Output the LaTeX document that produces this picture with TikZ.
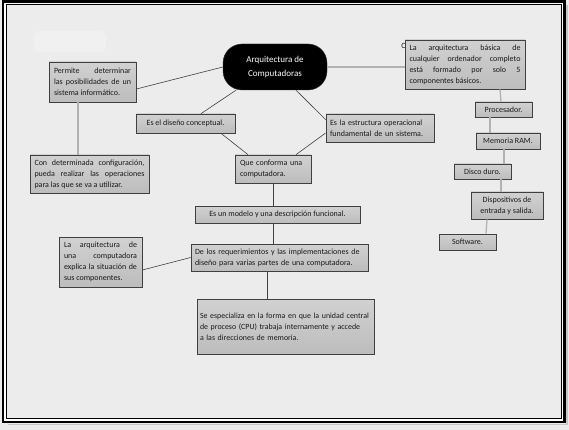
\documentclass[tikz,border=0pt]{standalone}
\usepackage{fontspec}
\setmainfont{Carlito}
\begin{document}
\begin{tikzpicture}[
    x=1pt, y=-1pt,
    box/.style={rectangle, draw=black!75, line width=0.7pt, top color=gray!36, bottom color=gray!52, text=black!90, font=\fontsize{8}{11}\selectfont, inner xsep=5pt, inner ysep=2pt},
    jbox/.style={box, align=justify},
    lbox/.style={box, align=left},
    cbox/.style={box, align=center},
    link/.style={draw=black!75, line width=0.6pt},
    glink/.style={draw=gray!60, line width=1.3pt}
]
\useasboundingbox (0,0) rectangle (569,430);
\fill[gray!15] (0,0) rectangle (569,430);
\fill[gray!12, rounded corners=6pt] (34,31) rectangle (106,52);
\draw[gray!45, line width=1.5pt] (567,5) -- (567,424.5) -- (8,424.5);
\draw[black, line width=2.6pt] (3,1.3) rectangle (564.5,422);
\draw[white, line width=1.2pt] (5,3.2) rectangle (562.5,420);
\draw[black, line width=0.9pt] (6.5,4.6) rectangle (561,418.5);

\node[rectangle, rounded corners=19pt, fill=black, draw=black!80, text=white, minimum width=104pt, minimum height=46pt, align=center, font=\fontsize{9}{14}\selectfont] (central) at (275,67) {Arquitectura de\\Computadoras};

\node[jbox, minimum width=87pt, minimum height=40pt, text width=77pt] (permite) at (92.5,82) {Permite determinar\linebreak las posibilidades de un sistema informático.};
\node[jbox, minimum width=119pt, minimum height=38pt, text width=110pt, inner xsep=4.5pt] (config) at (89.5,174) {Con determinada configuración,\linebreak pueda realizar las operaciones para las que se va a utilizar.};
\node[lbox, minimum width=99pt, minimum height=19pt] (disenio) at (185.5,123.5) {Es el diseño conceptual.};
\node[lbox, minimum width=108pt, minimum height=28pt, text width=100pt, inner xsep=4pt] (estructura) at (380,128) {Es la estructura operacional\\fundamental de un sistema.};
\node[lbox, minimum width=76pt, minimum height=28pt, text width=66pt] (conforma) at (273,169) {Que conforma una\\computadora.};
\node[cbox, minimum width=165pt, minimum height=17pt] (modelo) at (277.5,214.5) {Es un modelo y una descripción funcional.};
\node[jbox, minimum width=83pt, minimum height=50pt, text width=73pt] (explica) at (100.5,262) {La arquitectura de\linebreak una computadora\linebreak explica la situación de sus componentes.};
\node[lbox, minimum width=177pt, minimum height=27pt, text width=169pt, inner xsep=4pt] (requisitos) at (279.5,257.5) {De los requerimientos y las implementaciones de\\diseño para varias partes de una computadora.};
\node[lbox, minimum width=177pt, minimum height=55pt, text width=174pt, inner xsep=1.5pt, font=\fontsize{7.9}{11}\selectfont] (especializa) at (285.5,326.5) {\hspace{1.5pt}Se especializa en la forma en que la unidad central\\\hspace{1.5pt}de proceso (CPU) trabaja internamente y accede\\\hspace{1.5pt}a las direcciones de memoria.\\[7pt]};

\node[text=black!90, font=\fontsize{8}{11}\selectfont] (letra) at (403.5,46) {C};
\node[jbox, minimum width=120pt, minimum height=49pt, text width=111pt, inner xsep=4.5pt] (basica) at (465,64.5) {La arquitectura básica de\linebreak cualquier ordenador completo\linebreak está formado por solo 5\linebreak componentes básicos.};
\node[cbox, minimum width=57pt, minimum height=15pt] (procesador) at (503.5,109.5) {Procesador.};
\node[cbox, minimum width=64pt, minimum height=16pt] (memoria) at (508,141) {Memoria RAM.};
\node[cbox, minimum width=57pt, minimum height=15pt] (disco) at (482.5,171.5) {Disco duro.};
\node[cbox, minimum width=72pt, minimum height=27pt] (dispositivos) at (507,205.5) {Dispositivos de\\entrada y salida.};
\node[cbox, minimum width=57pt, minimum height=16pt] (software) at (467.5,242) {Software.};

\draw[link] (central.west) -- ([yshift=-7pt]permite.east);
\draw[link] ([xshift=-39pt]central.south) -- ([xshift=15.5pt]disenio.north);
\draw[link] ([xshift=21pt]central.south) -- ([yshift=-6pt]estructura.north west);
\draw[link] ([xshift=35.5pt]disenio.south) -- ([xshift=-25pt]conforma.north);
\draw[link] ([yshift=-5pt]estructura.west) -- ([xshift=23pt]conforma.north);
\draw[link] (conforma.south) -- (conforma.south |- modelo.north);
\draw[link] (modelo.south -| conforma.south) -- (requisitos.north -| conforma.south);
\draw[link] (requisitos.west) -- ([yshift=-8pt]explica.east);
\draw[link] ([xshift=-12.5pt]requisitos.south) -- ([xshift=-18.5pt]especializa.north);
\draw[glink] (permite.south -| 78,0) -- (config.north -| 78,0);
\draw[glink] (central.east) -- (central.east -| basica.west);
\draw[glink] ([xshift=35pt]basica.south) -- ([xshift=-2.5pt]procesador.north);
\draw[glink] ([xshift=-13.5pt]procesador.south) -- ([xshift=-18pt]memoria.north);
\draw[glink] ([xshift=-4pt]memoria.south) -- ([xshift=21.5pt]disco.north);
\draw[glink] ([xshift=18.5pt]disco.south) -- ([xshift=-6pt]dispositivos.north);
\draw[glink] ([xshift=-20pt]dispositivos.south) -- ([xshift=18.5pt]software.north);
\end{tikzpicture}
\end{document}
